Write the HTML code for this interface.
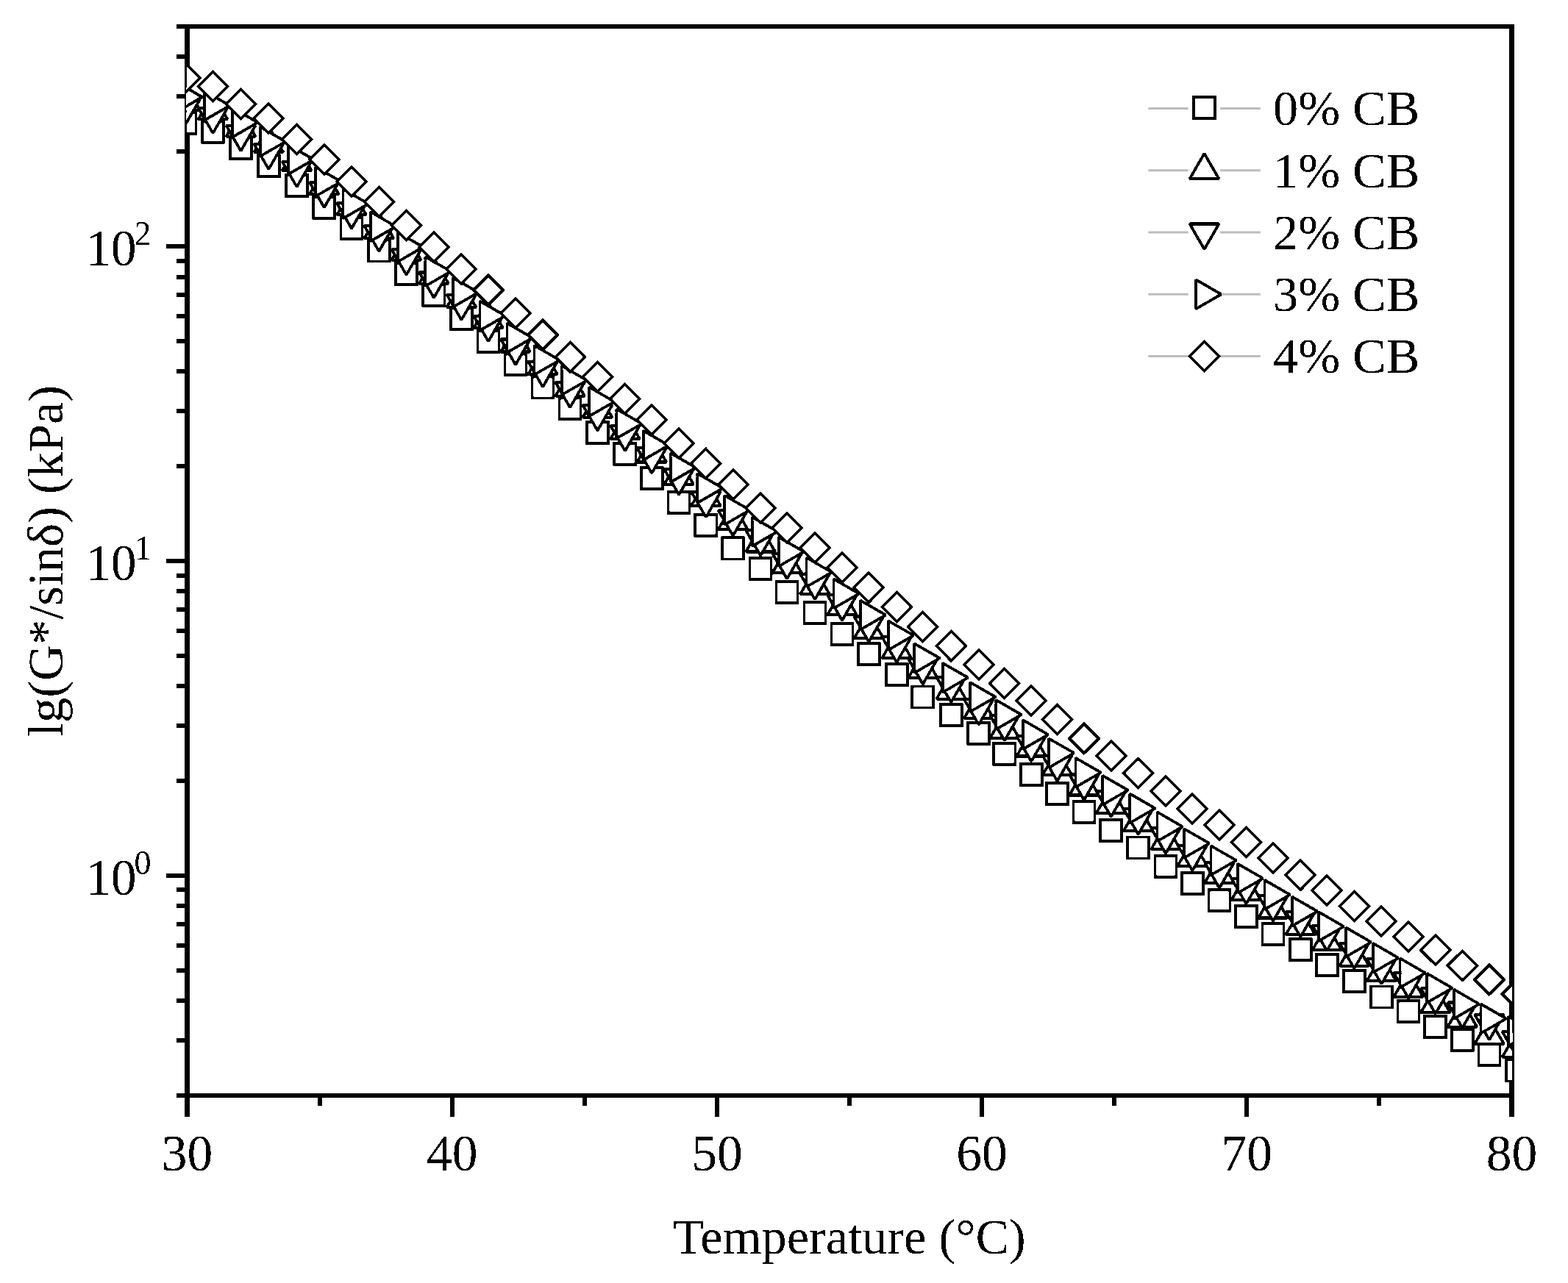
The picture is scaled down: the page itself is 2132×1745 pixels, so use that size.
<!DOCTYPE html>
<html><head><meta charset="utf-8"><title>lg(G*/sin&#948;) vs Temperature</title>
<style>html,body{margin:0;padding:0;background:#fff;}body{width:2132px;height:1745px;overflow:hidden;}svg{display:block;}text{font-family:"Liberation Serif","Times New Roman",serif;fill:#000;}</style></head><body>
<svg width="2132" height="1745" viewBox="0 0 2132 1745">
<rect x="0" y="0" width="2132" height="1745" fill="#fff"/>
<g stroke="#bdbdbd" stroke-width="2.8">
<line x1="1561.3" y1="147.5" x2="1615.7" y2="147.5"/>
<line x1="1659.1" y1="147.5" x2="1713.8" y2="147.5"/>
<line x1="1561.3" y1="231.75" x2="1615.7" y2="231.75"/>
<line x1="1659.1" y1="231.75" x2="1713.8" y2="231.75"/>
<line x1="1561.3" y1="316" x2="1615.7" y2="316"/>
<line x1="1659.1" y1="316" x2="1713.8" y2="316"/>
<line x1="1561.3" y1="400.25" x2="1615.7" y2="400.25"/>
<line x1="1659.1" y1="400.25" x2="1713.8" y2="400.25"/>
<line x1="1561.3" y1="484.5" x2="1615.7" y2="484.5"/>
<line x1="1659.1" y1="484.5" x2="1713.8" y2="484.5"/>
</g>
<defs><filter id="bin" x="0" y="0" width="2132" height="1745" filterUnits="userSpaceOnUse" color-interpolation-filters="sRGB"><feComponentTransfer><feFuncR type="discrete" tableValues="0 1"/><feFuncG type="discrete" tableValues="0 1"/><feFuncB type="discrete" tableValues="0 1"/><feFuncA type="discrete" tableValues="0 1"/></feComponentTransfer></filter></defs>
<g filter="url(#bin)">
<g fill="#000">
<rect x="251" y="33" width="1808" height="6"/>
<rect x="251" y="1487" width="1808" height="6"/>
<rect x="251" y="33" width="7" height="1460"/>
<rect x="2052" y="33" width="7" height="1460"/>
<rect x="251.5" y="1493" width="6" height="26"/>
<rect x="431.6" y="1493" width="6" height="11"/>
<rect x="611.7" y="1493" width="6" height="26"/>
<rect x="791.8" y="1493" width="6" height="11"/>
<rect x="971.9" y="1493" width="6" height="26"/>
<rect x="1152" y="1493" width="6" height="11"/>
<rect x="1332.1" y="1493" width="6" height="26"/>
<rect x="1512.2" y="1493" width="6" height="11"/>
<rect x="1692.3" y="1493" width="6" height="26"/>
<rect x="1872.4" y="1493" width="6" height="11"/>
<rect x="2052.5" y="1493" width="6" height="26"/>
<rect x="240" y="1486.98" width="11" height="6"/>
<rect x="240" y="1411.63" width="11" height="6"/>
<rect x="240" y="1358.17" width="11" height="6"/>
<rect x="240" y="1316.7" width="11" height="6"/>
<rect x="240" y="1282.82" width="11" height="6"/>
<rect x="240" y="1254.17" width="11" height="6"/>
<rect x="240" y="1229.36" width="11" height="6"/>
<rect x="240" y="1207.47" width="11" height="6"/>
<rect x="226" y="1187.89" width="25" height="6"/>
<rect x="240" y="1059.08" width="11" height="6"/>
<rect x="240" y="983.73" width="11" height="6"/>
<rect x="240" y="930.27" width="11" height="6"/>
<rect x="240" y="888.8" width="11" height="6"/>
<rect x="240" y="854.92" width="11" height="6"/>
<rect x="240" y="826.27" width="11" height="6"/>
<rect x="240" y="801.46" width="11" height="6"/>
<rect x="240" y="779.57" width="11" height="6"/>
<rect x="226" y="759.99" width="25" height="6"/>
<rect x="240" y="631.18" width="11" height="6"/>
<rect x="240" y="555.83" width="11" height="6"/>
<rect x="240" y="502.37" width="11" height="6"/>
<rect x="240" y="460.9" width="11" height="6"/>
<rect x="240" y="427.02" width="11" height="6"/>
<rect x="240" y="398.37" width="11" height="6"/>
<rect x="240" y="373.56" width="11" height="6"/>
<rect x="240" y="351.67" width="11" height="6"/>
<rect x="226" y="332.09" width="25" height="6"/>
<rect x="240" y="203.28" width="11" height="6"/>
<rect x="240" y="127.93" width="11" height="6"/>
<rect x="240" y="74.47" width="11" height="6"/>
<rect x="240" y="33" width="11" height="6"/>
</g>
<defs><clipPath id="pc"><rect x="253.6" y="30" width="1802.7" height="1470"/></clipPath></defs>
<g clip-path="url(#pc)" fill="#fff" stroke="#000" stroke-miterlimit="10">
<g stroke-width="3.8"><rect x="237.5" y="153" width="29" height="29"/><rect x="275" y="164.6" width="29" height="29"/><rect x="313" y="187" width="29" height="29"/><rect x="350.8" y="211.3" width="29" height="29"/><rect x="389.1" y="238" width="29" height="29"/><rect x="426.3" y="267.6" width="29" height="29"/><rect x="463.5" y="295.8" width="29" height="29"/><rect x="500.8" y="326.5" width="29" height="29"/><rect x="538" y="358.1" width="29" height="29"/><rect x="575.4" y="386.9" width="29" height="29"/><rect x="612.9" y="419.3" width="29" height="29"/><rect x="649.5" y="450.2" width="29" height="29"/><rect x="686.5" y="481.3" width="29" height="29"/><rect x="723.5" y="512.4" width="29" height="29"/><rect x="760.6" y="541.2" width="29" height="29"/><rect x="797.9" y="573.8" width="29" height="29"/><rect x="835.4" y="602.8" width="29" height="29"/><rect x="871.7" y="636.3" width="29" height="29"/><rect x="908.6" y="668.7" width="29" height="29"/><rect x="945.4" y="699.8" width="29" height="29"/><rect x="982.1" y="731.4" width="29" height="29"/><rect x="1019.6" y="758.9" width="29" height="29"/><rect x="1055.6" y="790.9" width="29" height="29"/><rect x="1093.5" y="818.8" width="29" height="29"/><rect x="1130.5" y="847.8" width="29" height="29"/><rect x="1166.8" y="875.2" width="29" height="29"/><rect x="1204.7" y="903.3" width="29" height="29"/><rect x="1240.3" y="933.6" width="29" height="29"/><rect x="1278.7" y="958.2" width="29" height="29"/><rect x="1316.3" y="982.8" width="29" height="29"/><rect x="1351.4" y="1010.8" width="29" height="29"/><rect x="1387.7" y="1039" width="29" height="29"/><rect x="1423" y="1065.3" width="29" height="29"/><rect x="1459.5" y="1089.7" width="29" height="29"/><rect x="1496.2" y="1114.9" width="29" height="29"/><rect x="1533.2" y="1138.5" width="29" height="29"/><rect x="1570.5" y="1163.7" width="29" height="29"/><rect x="1606.8" y="1187" width="29" height="29"/><rect x="1643.5" y="1210.3" width="29" height="29"/><rect x="1679.9" y="1232.1" width="29" height="29"/><rect x="1716.5" y="1255.9" width="29" height="29"/><rect x="1753.8" y="1277.2" width="29" height="29"/><rect x="1789.7" y="1298" width="29" height="29"/><rect x="1826.9" y="1320.2" width="29" height="29"/><rect x="1863.9" y="1341.6" width="29" height="29"/><rect x="1900.6" y="1361.2" width="29" height="29"/><rect x="1937.3" y="1382" width="29" height="29"/><rect x="1973.8" y="1399.8" width="29" height="29"/><rect x="2010.5" y="1419.9" width="29" height="29"/><rect x="2048" y="1441.5" width="29" height="29"/></g>
<g stroke-width="3.8" stroke-linejoin="bevel"><polygon points="252,115.3 271.92,149.8 232.08,149.8"/><polygon points="289.5,127.6 309.42,162.1 269.58,162.1"/><polygon points="327.5,151.1 347.42,185.6 307.58,185.6"/><polygon points="365.3,172.5 385.22,207 345.38,207"/><polygon points="403.6,197.5 423.52,232 383.68,232"/><polygon points="440.8,229.8 460.72,264.3 420.88,264.3"/><polygon points="478,257.7 497.92,292.2 458.08,292.2"/><polygon points="515.3,289.8 535.22,324.3 495.38,324.3"/><polygon points="552.5,319.2 572.42,353.7 532.58,353.7"/><polygon points="589.9,351.3 609.82,385.8 569.98,385.8"/><polygon points="627.4,383.5 647.32,418 607.48,418"/><polygon points="664,411.7 683.92,446.2 644.08,446.2"/><polygon points="701,444 720.92,478.5 681.08,478.5"/><polygon points="738,474.8 757.92,509.3 718.08,509.3"/><polygon points="775.1,504.1 795.02,538.6 755.18,538.6"/><polygon points="812.4,533.2 832.32,567.7 792.48,567.7"/><polygon points="849.9,562.5 869.82,597 829.98,597"/><polygon points="886.2,594 906.12,628.5 866.28,628.5"/><polygon points="923.1,624.3 943.02,658.8 903.18,658.8"/><polygon points="959.9,653.4 979.82,687.9 939.98,687.9"/><polygon points="996.6,685.4 1016.52,719.9 976.68,719.9"/><polygon points="1034.1,716 1054.02,750.5 1014.18,750.5"/><polygon points="1070.1,744.8 1090.02,779.3 1050.18,779.3"/><polygon points="1108,773.7 1127.92,808.2 1088.08,808.2"/><polygon points="1145,801.9 1164.92,836.4 1125.08,836.4"/><polygon points="1181.3,833.7 1201.22,868.2 1161.38,868.2"/><polygon points="1219.2,860.6 1239.12,895.1 1199.28,895.1"/><polygon points="1254.8,887.6 1274.72,922.1 1234.88,922.1"/><polygon points="1293.2,916.1 1313.12,950.6 1273.28,950.6"/><polygon points="1330.8,942.3 1350.72,976.8 1310.88,976.8"/><polygon points="1365.9,969.8 1385.82,1004.3 1345.98,1004.3"/><polygon points="1402.2,994 1422.12,1028.5 1382.28,1028.5"/><polygon points="1437.5,1019.6 1457.42,1054.1 1417.58,1054.1"/><polygon points="1474,1047 1493.92,1081.5 1454.08,1081.5"/><polygon points="1510.7,1071.3 1530.62,1105.8 1490.78,1105.8"/><polygon points="1547.7,1095.5 1567.62,1130 1527.78,1130"/><polygon points="1585,1120.9 1604.92,1155.4 1565.08,1155.4"/><polygon points="1621.3,1143.1 1641.22,1177.6 1601.38,1177.6"/><polygon points="1658,1166.2 1677.92,1200.7 1638.08,1200.7"/><polygon points="1694.4,1189.5 1714.32,1224 1674.48,1224"/><polygon points="1731,1214 1750.92,1248.5 1711.08,1248.5"/><polygon points="1768.3,1236.7 1788.22,1271.2 1748.38,1271.2"/><polygon points="1804.2,1257.9 1824.12,1292.4 1784.28,1292.4"/><polygon points="1841.4,1279.1 1861.32,1313.6 1821.48,1313.6"/><polygon points="1878.4,1299.7 1898.32,1334.2 1858.48,1334.2"/><polygon points="1915.1,1321.3 1935.02,1355.8 1895.18,1355.8"/><polygon points="1951.8,1342.7 1971.72,1377.2 1931.88,1377.2"/><polygon points="1988.3,1362.2 2008.22,1396.7 1968.38,1396.7"/><polygon points="2025,1385.5 2044.92,1420 2005.08,1420"/><polygon points="2062.5,1403.2 2082.42,1437.7 2042.58,1437.7"/></g>
<g stroke-width="3.8" stroke-linejoin="bevel"><polygon points="252,169.5 271.92,135 232.08,135"/><polygon points="289.5,181.1 309.42,146.6 269.58,146.6"/><polygon points="327.5,205.2 347.42,170.7 307.58,170.7"/><polygon points="365.3,230.1 385.22,195.6 345.38,195.6"/><polygon points="403.6,254.1 423.52,219.6 383.68,219.6"/><polygon points="440.8,282.3 460.72,247.8 420.88,247.8"/><polygon points="478,310.8 497.92,276.3 458.08,276.3"/><polygon points="515.3,341.7 535.22,307.2 495.38,307.2"/><polygon points="552.5,373.9 572.42,339.4 532.58,339.4"/><polygon points="589.9,405 609.82,370.5 569.98,370.5"/><polygon points="627.4,435.1 647.32,400.6 607.48,400.6"/><polygon points="664,464.2 683.92,429.7 644.08,429.7"/><polygon points="701,496 720.92,461.5 681.08,461.5"/><polygon points="738,526.2 757.92,491.7 718.08,491.7"/><polygon points="775.1,554.3 795.02,519.8 755.18,519.8"/><polygon points="812.4,585.6 832.32,551.1 792.48,551.1"/><polygon points="849.9,613.2 869.82,578.7 829.98,578.7"/><polygon points="886.2,643.6 906.12,609.1 866.28,609.1"/><polygon points="923.1,672.7 943.02,638.2 903.18,638.2"/><polygon points="959.9,703.4 979.82,668.9 939.98,668.9"/><polygon points="996.6,728.6 1016.52,694.1 976.68,694.1"/><polygon points="1034.1,755.8 1054.02,721.3 1014.18,721.3"/><polygon points="1070.1,787.3 1090.02,752.8 1050.18,752.8"/><polygon points="1108,815.2 1127.92,780.7 1088.08,780.7"/><polygon points="1145,843.7 1164.92,809.2 1125.08,809.2"/><polygon points="1181.3,873 1201.22,838.5 1161.38,838.5"/><polygon points="1219.2,900.9 1239.12,866.4 1199.28,866.4"/><polygon points="1254.8,930.5 1274.72,896 1234.88,896"/><polygon points="1293.2,955.3 1313.12,920.8 1273.28,920.8"/><polygon points="1330.8,985.6 1350.72,951.1 1310.88,951.1"/><polygon points="1365.9,1007.3 1385.82,972.8 1345.98,972.8"/><polygon points="1402.2,1035.6 1422.12,1001.1 1382.28,1001.1"/><polygon points="1437.5,1062.3 1457.42,1027.8 1417.58,1027.8"/><polygon points="1474,1088 1493.92,1053.5 1454.08,1053.5"/><polygon points="1510.7,1110.8 1530.62,1076.3 1490.78,1076.3"/><polygon points="1547.7,1134.7 1567.62,1100.2 1527.78,1100.2"/><polygon points="1585,1160.8 1604.92,1126.3 1565.08,1126.3"/><polygon points="1621.3,1184.1 1641.22,1149.6 1601.38,1149.6"/><polygon points="1658,1207.8 1677.92,1173.3 1638.08,1173.3"/><polygon points="1694.4,1229.4 1714.32,1194.9 1674.48,1194.9"/><polygon points="1731,1252.7 1750.92,1218.2 1711.08,1218.2"/><polygon points="1768.3,1274.2 1788.22,1239.7 1748.38,1239.7"/><polygon points="1804.2,1293.1 1824.12,1258.6 1784.28,1258.6"/><polygon points="1841.4,1317.2 1861.32,1282.7 1821.48,1282.7"/><polygon points="1878.4,1338.4 1898.32,1303.9 1858.48,1303.9"/><polygon points="1915.1,1357.7 1935.02,1323.2 1895.18,1323.2"/><polygon points="1951.8,1378.7 1971.72,1344.2 1931.88,1344.2"/><polygon points="1988.3,1398 2008.22,1363.5 1968.38,1363.5"/><polygon points="2025,1414.2 2044.92,1379.7 2005.08,1379.7"/><polygon points="2062.5,1437.5 2082.42,1403 2042.58,1403"/></g>
<g stroke-width="3.8" stroke-linejoin="bevel"><polygon points="275,132 240.5,112.08 240.5,151.92"/><polygon points="312.5,143.6 278,123.68 278,163.52"/><polygon points="350.5,166.6 316,146.68 316,186.52"/><polygon points="388.3,192.6 353.8,172.68 353.8,212.52"/><polygon points="426.6,217 392.1,197.08 392.1,236.92"/><polygon points="463.8,247 429.3,227.08 429.3,266.92"/><polygon points="501,277.2 466.5,257.28 466.5,297.12"/><polygon points="538.3,308.1 503.8,288.18 503.8,328.02"/><polygon points="575.5,336 541,316.08 541,355.92"/><polygon points="612.9,369.2 578.4,349.28 578.4,389.12"/><polygon points="650.4,397.7 615.9,377.78 615.9,417.62"/><polygon points="687,429.5 652.5,409.58 652.5,449.42"/><polygon points="724,459.5 689.5,439.58 689.5,479.42"/><polygon points="761,489.8 726.5,469.88 726.5,509.72"/><polygon points="798.1,517.3 763.6,497.38 763.6,537.22"/><polygon points="835.4,546.3 800.9,526.38 800.9,566.22"/><polygon points="872.9,576.3 838.4,556.38 838.4,596.22"/><polygon points="909.2,605.7 874.7,585.78 874.7,625.62"/><polygon points="946.1,636 911.6,616.08 911.6,655.92"/><polygon points="982.9,664 948.4,644.08 948.4,683.92"/><polygon points="1019.6,693.7 985.1,673.78 985.1,713.62"/><polygon points="1057.1,723 1022.6,703.08 1022.6,742.92"/><polygon points="1093.1,750.4 1058.6,730.48 1058.6,770.32"/><polygon points="1131,778.3 1096.5,758.38 1096.5,798.22"/><polygon points="1168,807.4 1133.5,787.48 1133.5,827.32"/><polygon points="1204.3,836.5 1169.8,816.58 1169.8,856.42"/><polygon points="1242.2,864.2 1207.7,844.28 1207.7,884.12"/><polygon points="1277.8,895.2 1243.3,875.28 1243.3,915.12"/><polygon points="1316.2,921.7 1281.7,901.78 1281.7,941.62"/><polygon points="1353.8,948 1319.3,928.08 1319.3,967.92"/><polygon points="1388.9,972 1354.4,952.08 1354.4,991.92"/><polygon points="1425.2,999.1 1390.7,979.18 1390.7,1019.02"/><polygon points="1460.5,1024.2 1426,1004.28 1426,1044.12"/><polygon points="1497,1050.7 1462.5,1030.78 1462.5,1070.62"/><polygon points="1533.7,1074.7 1499.2,1054.78 1499.2,1094.62"/><polygon points="1570.7,1099.4 1536.2,1079.48 1536.2,1119.32"/><polygon points="1608,1124.3 1573.5,1104.38 1573.5,1144.22"/><polygon points="1644.3,1147 1609.8,1127.08 1609.8,1166.92"/><polygon points="1681,1170.2 1646.5,1150.28 1646.5,1190.12"/><polygon points="1717.4,1194.7 1682.9,1174.78 1682.9,1214.62"/><polygon points="1754,1216.9 1719.5,1196.98 1719.5,1236.82"/><polygon points="1791.3,1239.5 1756.8,1219.58 1756.8,1259.42"/><polygon points="1827.2,1260.1 1792.7,1240.18 1792.7,1280.02"/><polygon points="1864.4,1281.4 1829.9,1261.48 1829.9,1301.32"/><polygon points="1901.4,1302.8 1866.9,1282.88 1866.9,1322.72"/><polygon points="1938.1,1323.3 1903.6,1303.38 1903.6,1343.22"/><polygon points="1974.8,1343.8 1940.3,1323.88 1940.3,1363.72"/><polygon points="2011.3,1365.6 1976.8,1345.68 1976.8,1385.52"/><polygon points="2048,1385.4 2013.5,1365.48 2013.5,1405.32"/><polygon points="2085.5,1402.5 2051,1382.58 2051,1422.42"/></g>
<g stroke-width="3.6"><polygon points="252,85.8 272,105.8 252,125.8 232,105.8"/><polygon points="289.5,97.5 309.5,117.5 289.5,137.5 269.5,117.5"/><polygon points="327.5,121.4 347.5,141.4 327.5,161.4 307.5,141.4"/><polygon points="365.3,140.9 385.3,160.9 365.3,180.9 345.3,160.9"/><polygon points="403.6,169.4 423.6,189.4 403.6,209.4 383.6,189.4"/><polygon points="440.8,196.7 460.8,216.7 440.8,236.7 420.8,216.7"/><polygon points="478,227.2 498,247.2 478,267.2 458,247.2"/><polygon points="515.3,254.5 535.3,274.5 515.3,294.5 495.3,274.5"/><polygon points="552.5,286.4 572.5,306.4 552.5,326.4 532.5,306.4"/><polygon points="589.9,316.3 609.9,336.3 589.9,356.3 569.9,336.3"/><polygon points="627.4,346 647.4,366 627.4,386 607.4,366"/><polygon points="664,374.6 684,394.6 664,414.6 644,394.6"/><polygon points="701,405.7 721,425.7 701,445.7 681,425.7"/><polygon points="738,435.6 758,455.6 738,475.6 718,455.6"/><polygon points="775.1,465.6 795.1,485.6 775.1,505.6 755.1,485.6"/><polygon points="812.4,492.5 832.4,512.5 812.4,532.5 792.4,512.5"/><polygon points="849.9,522.5 869.9,542.5 849.9,562.5 829.9,542.5"/><polygon points="886.2,551.3 906.2,571.3 886.2,591.3 866.2,571.3"/><polygon points="923.1,583.1 943.1,603.1 923.1,623.1 903.1,603.1"/><polygon points="959.9,610.4 979.9,630.4 959.9,650.4 939.9,630.4"/><polygon points="996.6,639 1016.6,659 996.6,679 976.6,659"/><polygon points="1034.1,671.3 1054.1,691.3 1034.1,711.3 1014.1,691.3"/><polygon points="1070.1,697.8 1090.1,717.8 1070.1,737.8 1050.1,717.8"/><polygon points="1108,724.9 1128,744.9 1108,764.9 1088,744.9"/><polygon points="1145,751.9 1165,771.9 1145,791.9 1125,771.9"/><polygon points="1181.3,779.1 1201.3,799.1 1181.3,819.1 1161.3,799.1"/><polygon points="1219.2,805.5 1239.2,825.5 1219.2,845.5 1199.2,825.5"/><polygon points="1254.8,832.5 1274.8,852.5 1254.8,872.5 1234.8,852.5"/><polygon points="1293.2,858.6 1313.2,878.6 1293.2,898.6 1273.2,878.6"/><polygon points="1330.8,884 1350.8,904 1330.8,924 1310.8,904"/><polygon points="1365.9,909.5 1385.9,929.5 1365.9,949.5 1345.9,929.5"/><polygon points="1402.2,933.1 1422.2,953.1 1402.2,973.1 1382.2,953.1"/><polygon points="1437.5,958.7 1457.5,978.7 1437.5,998.7 1417.5,978.7"/><polygon points="1474,984.5 1494,1004.5 1474,1024.5 1454,1004.5"/><polygon points="1510.7,1008 1530.7,1028 1510.7,1048 1490.7,1028"/><polygon points="1547.7,1031.7 1567.7,1051.7 1547.7,1071.7 1527.7,1051.7"/><polygon points="1585,1056 1605,1076 1585,1096 1565,1076"/><polygon points="1621.3,1080 1641.3,1100 1621.3,1120 1601.3,1100"/><polygon points="1658,1102.1 1678,1122.1 1658,1142.1 1638,1122.1"/><polygon points="1694.4,1125.5 1714.4,1145.5 1694.4,1165.5 1674.4,1145.5"/><polygon points="1731,1147.3 1751,1167.3 1731,1187.3 1711,1167.3"/><polygon points="1768.3,1170.1 1788.3,1190.1 1768.3,1210.1 1748.3,1190.1"/><polygon points="1804.2,1191.1 1824.2,1211.1 1804.2,1231.1 1784.2,1211.1"/><polygon points="1841.4,1212.6 1861.4,1232.6 1841.4,1252.6 1821.4,1232.6"/><polygon points="1878.4,1232.9 1898.4,1252.9 1878.4,1272.9 1858.4,1252.9"/><polygon points="1915.1,1254 1935.1,1274 1915.1,1294 1895.1,1274"/><polygon points="1951.8,1272.3 1971.8,1292.3 1951.8,1312.3 1931.8,1292.3"/><polygon points="1988.3,1293.2 2008.3,1313.2 1988.3,1333.2 1968.3,1313.2"/><polygon points="2025,1312.5 2045,1332.5 2025,1352.5 2005,1332.5"/><polygon points="2062.5,1331.9 2082.5,1351.9 2062.5,1371.9 2042.5,1351.9"/></g>
</g>
<g fill="#fff" stroke="#000" stroke-width="3.8">
<rect x="1623" y="132" width="29" height="29"/>
<polygon stroke-linejoin="bevel" points="1637.5,208.75 1657.42,243.25 1617.58,243.25"/>
<polygon stroke-linejoin="bevel" points="1637.5,339 1657.42,304.5 1617.58,304.5"/>
<polygon stroke-linejoin="bevel" points="1660.5,400.25 1626,380.33 1626,420.17"/>
<polygon stroke-width="3.6" points="1637.5,464.5 1657.5,484.5 1637.5,504.5 1617.5,484.5"/>
</g>
<text x="1731" y="170.3" font-size="68.3">0% CB</text>
<text x="1731" y="254.55" font-size="68.3">1% CB</text>
<text x="1731" y="338.8" font-size="68.3">2% CB</text>
<text x="1731" y="423.05" font-size="68.3">3% CB</text>
<text x="1731" y="507.3" font-size="68.3">4% CB</text>
<text x="254.5" y="1592" font-size="69.5" text-anchor="middle">30</text>
<text x="614.7" y="1592" font-size="69.5" text-anchor="middle">40</text>
<text x="974.9" y="1592" font-size="69.5" text-anchor="middle">50</text>
<text x="1335.1" y="1592" font-size="69.5" text-anchor="middle">60</text>
<text x="1695.3" y="1592" font-size="69.5" text-anchor="middle">70</text>
<text x="2055.5" y="1592" font-size="69.5" text-anchor="middle">80</text>
<text x="116.5" y="361.09" font-size="69">10<tspan font-size="46" dx="-3" dy="-28">2</tspan></text>
<text x="116.5" y="788.99" font-size="69">10<tspan font-size="46" dx="-3" dy="-28">1</tspan></text>
<text x="116.5" y="1216.89" font-size="69">10<tspan font-size="46" dx="-3" dy="-28">0</tspan></text>
<text x="1155" y="1705" font-size="68.3" text-anchor="middle">Temperature (&#176;C)</text>
<text transform="translate(84.8,763) rotate(-90)" x="0" y="0" font-size="68.3" text-anchor="middle">lg(G*/sin&#948;) (kPa)</text>
</g>
</svg></body></html>
